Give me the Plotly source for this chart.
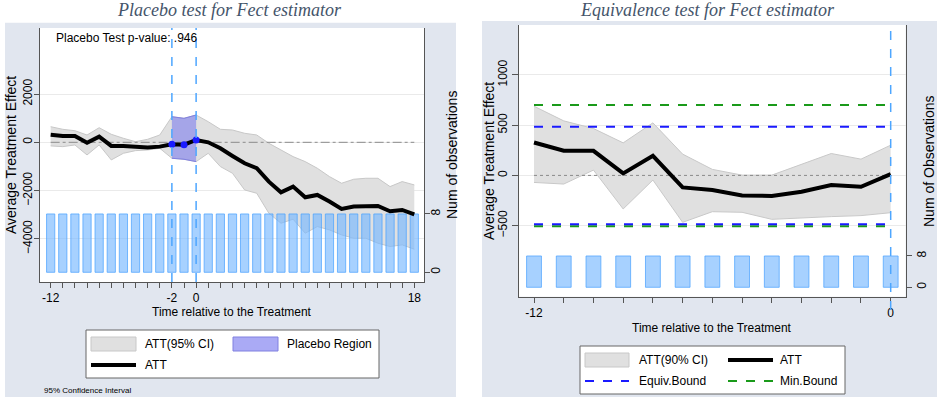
import plotly.graph_objects as go

# ---------------- data: placebo test (left) ----------------
pl_time = list(range(-12, 19))
pl_att = [317, 262, 262, -20, 234, -150, -150, -180, -220, -180, -83, -97, 97,
          0, -250, -565, -870, -1075, -1630, -2070, -1835, -2275, -2180, -2455,
          -2760, -2660, -2635, -2635, -2855, -2800, -2980]
pl_upper = [646, 538, 480, 302, 604, 331, 166, 25, 124, 302, 1060, 993, 1130,
            853, 538, 509, 373, 303, -41, -317, -593, -800, -1075, -1420,
            -1696, -1530, -1490, -1490, -1834, -1627, -1765]
pl_lower = [-150, -180, -110, -524, -110, -730, -455, -345, -317, -248, -662,
            -703, -800, -455, -1006, -1282, -1972, -2110, -2937, -3351, -3185,
            -3765, -3489, -3627, -3834, -3972, -3972, -4178, -4316, -4247, -4427]
pl_nobs = [8] * 31
placebo_period = [-2, 0]
placebo_p = ".946"
pl_xticks = [-12, -2, 0, 18]
pl_yticks = [-4000, -2000, 0, 2000]
obs_ticks = [0, 8]

# ---------------- data: equivalence test (right) ----------------
eq_time = list(range(-12, 1))
eq_att = [328, 245, 245, 20, 195, -119, -146, -199, -205, -162, -96, -113, 13]
eq_upper = [689, 543, 467, 324, 523, 212, 60, 3, 3, 113, 218, 162, 301]
eq_lower = [-70, -86, 53, -334, -46, -467, -361, -367, -437, -420, -410, -400, -371]
eq_nobs = [8] * 13
equiv_bound = [-485, 485]
min_bound = [-505, 700]
eq_xticks = [-12, 0]
eq_yticks = [-500, 0, 500, 1000]

W, H = 937, 400
def px(x): return x / W
def py(y): return 1 - y / H

FONT = "Liberation Sans, Arial, sans-serif"
BAND = "#e0e0e0"
BAND_EDGE = "#c8c8c8"
BAR_FILL = "rgba(120,185,255,0.65)"
BAR_EDGE = "rgba(70,160,255,0.7)"
VLINE = "#4da6ff"
AXC = "#555555"

fig = go.Figure()

# ---- left panel ----
fig.add_trace(go.Scatter(x=pl_time, y=pl_upper, mode="lines", line=dict(color=BAND_EDGE, width=1),
                         xaxis="x", yaxis="y", showlegend=False, hoverinfo="skip"))
fig.add_trace(go.Scatter(x=pl_time, y=pl_lower, mode="lines", line=dict(color=BAND_EDGE, width=1),
                         fill="tonexty", fillcolor=BAND, xaxis="x", yaxis="y", showlegend=False))
idx = [i for i, t in enumerate(pl_time) if placebo_period[0] <= t <= placebo_period[1]]
p_t = [pl_time[i] for i in idx]
fig.add_trace(go.Scatter(x=p_t, y=[pl_upper[i] for i in idx], mode="lines",
                         line=dict(color="#8080e0", width=1), xaxis="x", yaxis="y", showlegend=False))
fig.add_trace(go.Scatter(x=p_t, y=[pl_lower[i] for i in idx], mode="lines",
                         line=dict(color="#8080e0", width=1), fill="tonexty",
                         fillcolor="rgba(140,140,235,0.7)", xaxis="x", yaxis="y", showlegend=False))
fig.add_trace(go.Scatter(x=[pl_time[0], pl_time[-1]], y=[0, 0], mode="lines",
                         line=dict(color="#8a8a8a", width=1, dash="dashdot"),
                         xaxis="x", yaxis="y", showlegend=False))
fig.add_trace(go.Bar(x=pl_time, y=pl_nobs, width=0.68, marker=dict(color=BAR_FILL, line=dict(color=BAR_EDGE, width=1)),
                     xaxis="x", yaxis="y2", showlegend=False))
fig.add_trace(go.Scatter(x=pl_time, y=pl_att, mode="lines", line=dict(color="black", width=4),
                         xaxis="x", yaxis="y5", showlegend=False))
fig.add_trace(go.Scatter(x=p_t, y=[pl_att[i] for i in idx], mode="markers",
                         marker=dict(color="#1a1aff", size=7), xaxis="x", yaxis="y5", showlegend=False))

# ---- right panel ----
fig.add_trace(go.Scatter(x=eq_time, y=eq_upper, mode="lines", line=dict(color=BAND_EDGE, width=1),
                         xaxis="x2", yaxis="y3", showlegend=False))
fig.add_trace(go.Scatter(x=eq_time, y=eq_lower, mode="lines", line=dict(color=BAND_EDGE, width=1),
                         fill="tonexty", fillcolor=BAND, xaxis="x2", yaxis="y3", showlegend=False))
fig.add_trace(go.Scatter(x=[eq_time[0], eq_time[-1]], y=[0, 0], mode="lines",
                         line=dict(color="#8a8a8a", width=1, dash="dot"), xaxis="x2", yaxis="y3", showlegend=False))
for b in min_bound:
    fig.add_trace(go.Scatter(x=[eq_time[0], eq_time[-1]], y=[b, b], mode="lines",
                             line=dict(color="#1a9a1a", width=2, dash="dash"), xaxis="x2", yaxis="y3", showlegend=False))
for b in equiv_bound:
    fig.add_trace(go.Scatter(x=[eq_time[0], eq_time[-1]], y=[b, b], mode="lines",
                             line=dict(color="#1a1aff", width=2, dash="dash"), xaxis="x2", yaxis="y3", showlegend=False))
fig.add_trace(go.Scatter(x=eq_time, y=eq_att, mode="lines", line=dict(color="black", width=4),
                         xaxis="x2", yaxis="y3", showlegend=False))
fig.add_trace(go.Bar(x=eq_time, y=eq_nobs, width=0.5, marker=dict(color=BAR_FILL, line=dict(color=BAR_EDGE, width=1)),
                     xaxis="x2", yaxis="y4", showlegend=False))

tickfont = dict(family=FONT, size=12, color="black")

def xticks(lo, hi, labeled):
    vals = list(range(lo, hi + 1))
    return vals, [str(v) if v in labeled else "" for v in vals]

lx_vals, lx_text = xticks(pl_time[0], pl_time[-1], pl_xticks)
rx_vals, rx_text = xticks(eq_time[0], eq_time[-1], eq_xticks)

L_DOM_X = [px(40), px(424)]
L_DOM_Y = [py(282), py(28)]
R_DOM_X = [px(519), px(905.7)]
R_DOM_Y = [py(296.7), py(25)]

fig.update_layout(
    width=W, height=H, margin=dict(l=0, r=0, t=0, b=0),
    paper_bgcolor="white", plot_bgcolor="white", barmode="overlay",
    xaxis=dict(domain=L_DOM_X, range=[-12.88, 18.8], anchor="y", tickvals=lx_vals, ticktext=lx_text,
               ticks="outside", ticklen=5, tickcolor=AXC, showline=True, linecolor=AXC, showgrid=False,
               zeroline=False, tickfont=tickfont),
    yaxis=dict(domain=L_DOM_Y, range=[-5785, 4733], anchor="x", tickvals=pl_yticks, tickangle=-90,
               ticks="outside", ticklen=5, tickcolor=AXC, showline=True, linecolor=AXC, ticklabelstandoff=-3,
               showgrid=True, gridcolor="#eaeaea", zeroline=False, tickfont=tickfont),
    yaxis2=dict(range=[-1.33, 33.5], overlaying="y", side="right", anchor="x", tickvals=obs_ticks,
                tickangle=-90, ticks="outside", ticklen=5, tickcolor=AXC, showline=True, linecolor=AXC,
                ticklabelstandoff=-4, showgrid=False, zeroline=False, tickfont=tickfont),
    yaxis5=dict(range=[-5785, 4733], overlaying="y", anchor="x", visible=False),
    xaxis2=dict(domain=R_DOM_X, range=[-12.505, 0.505], anchor="y3", tickvals=rx_vals, ticktext=rx_text,
                ticks="outside", ticklen=5, tickcolor=AXC, showline=True, linecolor=AXC, showgrid=False,
                zeroline=False, tickfont=tickfont),
    yaxis3=dict(domain=R_DOM_Y, range=[-1207, 1497], anchor="x2", tickvals=eq_yticks, tickangle=-90,
                ticks="outside", ticklen=6, tickcolor=AXC, showline=True, linecolor=AXC,
                showgrid=True, gridcolor="#eaeaea", zeroline=False, tickfont=tickfont),
    yaxis4=dict(range=[-2.4, 67], overlaying="y3", side="right", anchor="x2", tickvals=obs_ticks,
                tickangle=-90, ticks="outside", ticklen=5, tickcolor=AXC, showline=True, linecolor=AXC,
                showgrid=False, zeroline=False, tickfont=tickfont),
)

shapes = []
# panel backgrounds
shapes.append(dict(type="rect", xref="paper", yref="paper", x0=px(5), x1=px(456), y0=py(397), y1=py(22.7),
                   fillcolor="#e1e6ef", line=dict(width=0), layer="below"))
shapes.append(dict(type="rect", xref="paper", yref="paper", x0=px(482), x1=px(937), y0=py(397), y1=py(21),
                   fillcolor="#e1e6ef", line=dict(width=0), layer="below"))
shapes.append(dict(type="rect", xref="paper", yref="paper", x0=L_DOM_X[0], x1=L_DOM_X[1], y0=L_DOM_Y[0], y1=L_DOM_Y[1],
                   fillcolor="white", line=dict(width=0), layer="below"))
shapes.append(dict(type="rect", xref="paper", yref="paper", x0=R_DOM_X[0], x1=R_DOM_X[1], y0=R_DOM_Y[0], y1=R_DOM_Y[1],
                   fillcolor="white", line=dict(width=0), layer="below"))
# vertical dashed lines
for t in placebo_period:
    shapes.append(dict(type="line", xref="x", yref="paper", x0=t, x1=t, y0=L_DOM_Y[0], y1=L_DOM_Y[1],
                       line=dict(color=VLINE, width=1.5, dash="dash")))
shapes.append(dict(type="line", xref="x2", yref="paper", x0=eq_time[-1], x1=eq_time[-1], y0=py(310), y1=R_DOM_Y[1],
                   line=dict(color=VLINE, width=1.5, dash="dash")))

# legends (boxes)
shapes.append(dict(type="rect", xref="paper", yref="paper", x0=px(86), x1=px(379), y0=py(378), y1=py(330),
                   fillcolor="white", line=dict(color="#666", width=1)))
shapes.append(dict(type="rect", xref="paper", yref="paper", x0=px(580), x1=px(845), y0=py(394), y1=py(346),
                   fillcolor="white", line=dict(color="#666", width=1)))
# left legend swatches
shapes.append(dict(type="rect", xref="paper", yref="paper", x0=px(91), x1=px(136), y0=py(351), y1=py(337),
                   fillcolor=BAND, line=dict(color=BAND_EDGE, width=1)))
shapes.append(dict(type="rect", xref="paper", yref="paper", x0=px(233), x1=px(278), y0=py(351), y1=py(337),
                   fillcolor="rgba(170,170,245,1)", line=dict(color="#8080e0", width=1)))
shapes.append(dict(type="line", xref="paper", yref="paper", x0=px(91), x1=px(136), y0=py(365), y1=py(365),
                   line=dict(color="black", width=4)))
# right legend swatches
shapes.append(dict(type="rect", xref="paper", yref="paper", x0=px(585), x1=px(629), y0=py(367), y1=py(353),
                   fillcolor=BAND, line=dict(color=BAND_EDGE, width=1)))
shapes.append(dict(type="line", xref="paper", yref="paper", x0=px(728), x1=px(773), y0=py(360), y1=py(360),
                   line=dict(color="black", width=4)))
shapes.append(dict(type="line", xref="paper", yref="paper", x0=px(585), x1=px(629), y0=py(381), y1=py(381),
                   line=dict(color="#1a1aff", width=2, dash="dash")))
shapes.append(dict(type="line", xref="paper", yref="paper", x0=px(728), x1=px(773), y0=py(381), y1=py(381),
                   line=dict(color="#1a9a1a", width=2, dash="dash")))
fig.update_layout(shapes=shapes)

ann = []
def text(x, y, s, size=12, anchor="left", angle=0, **kw):
    f = dict(family=FONT, size=size, color="black")
    f.update(kw.pop("font", {}))
    ann.append(dict(xref="paper", yref="paper", x=px(x), y=py(y), text=s, showarrow=False,
                    xanchor=anchor, yanchor="middle", textangle=angle, font=f, **kw))

title_font = dict(family="Liberation Serif, Times New Roman, serif", size=18, color="#44546a", style="italic")
text(229, 10, "Placebo test for Fect estimator", size=18, anchor="center", font=title_font)
text(707, 10, "Equivalence test for Fect estimator", size=18, anchor="center", font=title_font)
text(54, 38, "Placebo Test p-value: " + placebo_p, size=12)
text(11, 155, "Average Treatment Effect", size=14, anchor="center", angle=-90)
text(452, 155, "Num of observations", size=14, anchor="center", angle=-90)
text(232, 312, "Time relative to the Treatment", anchor="center")
text(489, 161, "Average Treatment Effect", size=14, anchor="center", angle=-90)
text(929, 161, "Num of Observations", size=14, anchor="center", angle=-90)
text(712, 328, "Time relative to the Treatment", anchor="center")
text(143, 344, "ATT(95% CI)")
text(285, 344, "Placebo Region")
text(143, 365, "ATT")
text(42, 390, "95% Confidence Interval", size=8)
text(637, 360, "ATT(90% CI)")
text(778, 360, "ATT")
text(637, 381, "Equiv.Bound")
text(778, 381, "Min.Bound")
fig.update_layout(annotations=ann)

fig.write_html("out.html", config={"displayModeBar": False},
               post_script="document.body.style.margin='0';document.body.style.overflow='hidden';")
